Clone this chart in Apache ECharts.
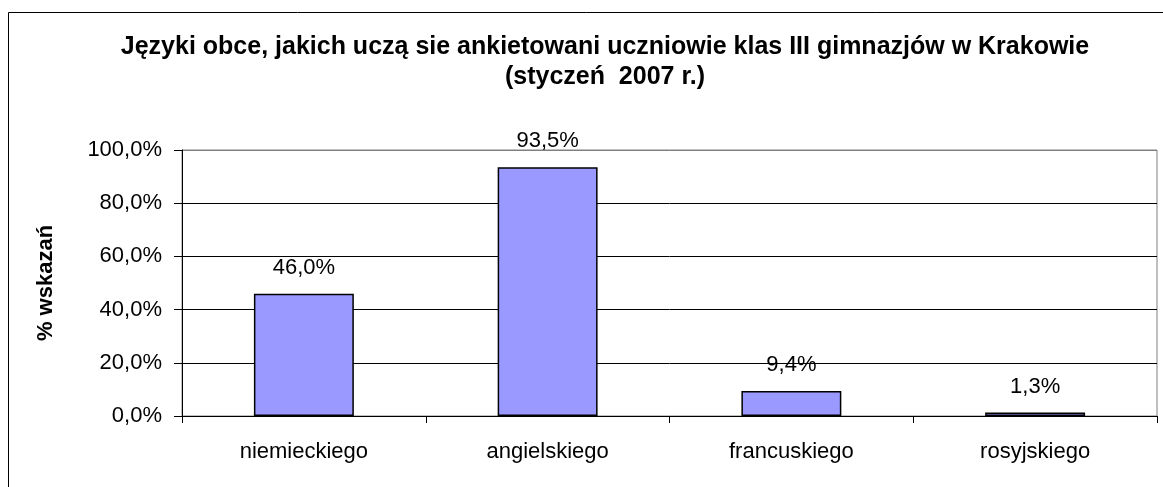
<!DOCTYPE html>
<html>
<head>
<meta charset="utf-8">
<script src="https://cdn.jsdelivr.net/npm/echarts@6/dist/echarts.min.js"></script>
<style>
  html, body { margin: 0; padding: 0; background: #fff; }
  #chart { width: 1163px; height: 487px; }
</style>
</head>
<body>
<div id="chart"></div>
<script>
// dane z wykresu
const categories = ["niemieckiego", "angielskiego", "francuskiego", "rosyjskiego"];
const values = [46.0, 93.5, 9.4, 1.3];
const yTicks = [0, 20, 40, 60, 80, 100];

const titleText = "Języki obce, jakich uczą sie ankietowani uczniowie klas III gimnazjów w Krakowie\n(styczeń  2007 r.)";
const yName = "% wskazań";

const fmt = (v) => v.toFixed(1).replace(".", ",") + "%";

const chart = echarts.init(document.getElementById("chart"));
chart.setOption({
  animation: false,
  textStyle: { fontFamily: "Liberation Sans, Arial, sans-serif" },
  title: {
    text: titleText,
    left: 600,
    textAlign: "center",
    top: 27,
    textStyle: { fontSize: 25, fontWeight: "bold", color: "#000", lineHeight: 30 },
  },
  graphic: [
    {
      type: "rect",
      shape: { x: 8.5, y: 12.5, width: 1300, height: 600 },
      style: { fill: "none", stroke: "#000", lineWidth: 1 },
      silent: true,
    },
  ],
  grid: {
    left: 182,
    right: 6,
    top: 150,
    bottom: 71,
    show: true,
    borderColor: "#808080",
    borderWidth: 1,
    backgroundColor: "transparent",
  },
  xAxis: {
    type: "category",
    data: categories,
    axisLine: { lineStyle: { color: "#000", width: 1 } },
    axisTick: { show: true, length: 7, lineStyle: { color: "#000" } },
    axisLabel: { fontSize: 22, color: "#000", margin: 25 },
  },
  yAxis: {
    type: "value",
    min: 0,
    max: yTicks[yTicks.length - 1],
    interval: 20,
    name: yName,
    nameLocation: "middle",
    nameGap: 125,
    nameTextStyle: { fontSize: 22, fontWeight: "bold", color: "#000" },
    axisLine: { show: true, lineStyle: { color: "#000", width: 1 } },
    axisTick: { show: true, length: 8, lineStyle: { color: "#000" } },
    axisLabel: { fontSize: 22, color: "#000", margin: 20, formatter: fmt },
    splitLine: {
      lineStyle: { color: ["#000", "#000", "#000", "#000", "#000", "#808080"], width: 1 },
    },
  },
  series: [
    {
      type: "bar",
      data: values,
      barWidth: "41%",
      itemStyle: { color: "#9999FF", borderColor: "#000", borderWidth: 1.5 },
      label: {
        show: true,
        position: "top",
        distance: 15,
        fontSize: 22,
        color: "#000",
        formatter: (p) => fmt(p.value),
      },
    },
  ],
});
</script>
</body>
</html>
